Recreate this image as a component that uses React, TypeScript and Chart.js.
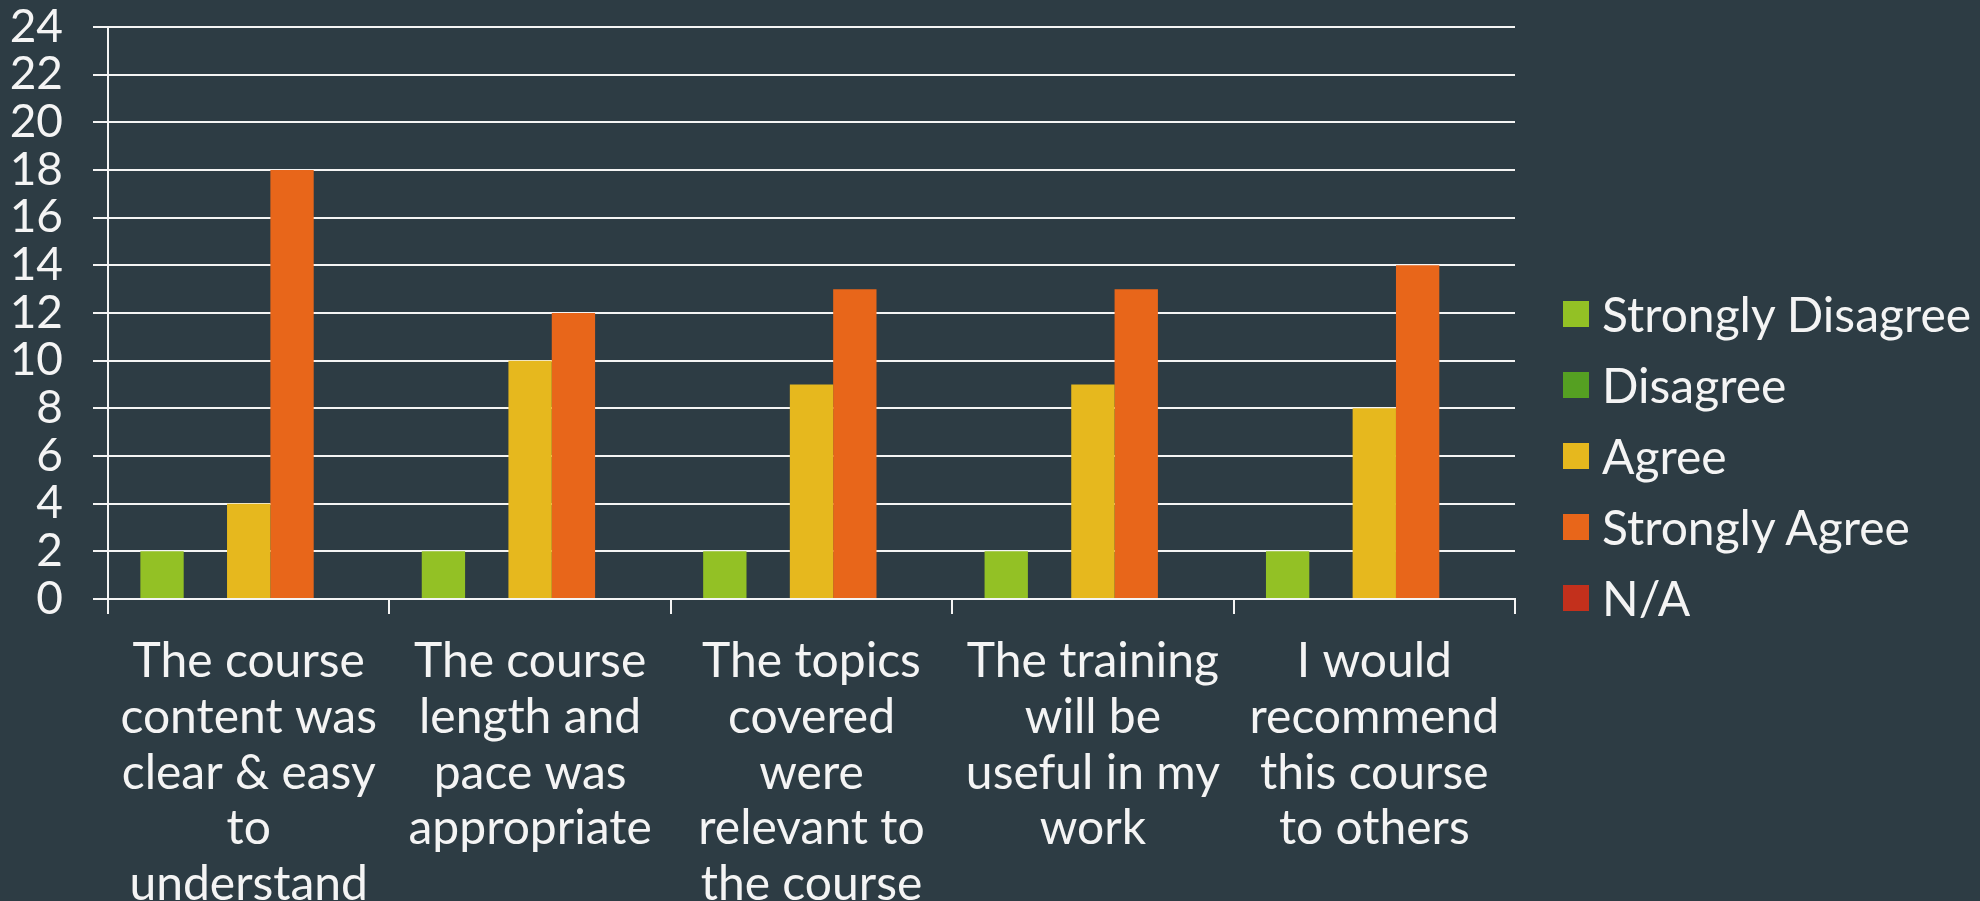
import React, { useEffect, useRef } from "react";
import { Chart, registerables } from "chart.js";

Chart.register(...registerables);

const categories: string[][] = [
  ["The course", "content was", "clear & easy", "to", "understand"],
  ["The course", "length and", "pace was", "appropriate"],
  ["The topics", "covered", "were", "relevant to", "the course"],
  ["The training", "will be", "useful in my", "work"],
  ["I would", "recommend", "this course", "to others"],
];

const seriesNames = ["Strongly Disagree", "Disagree", "Agree", "Strongly Agree", "N/A"];
const seriesColors = ["#93c125", "#55a022", "#e6b81e", "#e8661a", "#c3301c"];

const stronglyDisagree = [2, 2, 2, 2, 2];
const disagree = [0, 0, 0, 0, 0];
const agree = [4, 10, 9, 9, 8];
const stronglyAgree = [18, 12, 13, 13, 14];
const notApplicable = [0, 0, 0, 0, 0];

const seriesValues = [stronglyDisagree, disagree, agree, stronglyAgree, notApplicable];

const yMin = 0;
const yMax = 24;
const yStep = 2;

const BG = "#2d3c44";
const FG = "#f4f4f4";
const FONT = "Lato, 'Open Sans', sans-serif";

export default function App() {
  const canvasRef = useRef<HTMLCanvasElement | null>(null);

  useEffect(() => {
    document.body.style.margin = "0";
    document.body.style.background = BG;
    const canvas = canvasRef.current;
    if (!canvas) return;
    const chart = new Chart(canvas, {
      type: "bar",
      data: {
        labels: categories,
        datasets: seriesNames.map((name, i) => ({
          label: name,
          data: seriesValues[i],
          backgroundColor: seriesColors[i],
          borderWidth: 0,
          categoryPercentage: 0.77,
          barPercentage: 1.0,
        })),
      },
      options: {
        animation: false,
        responsive: true,
        maintainAspectRatio: false,
        layout: { padding: { left: 0, right: 465, top: 0, bottom: 0 } },
        plugins: {
          legend: { display: false },
          tooltip: { enabled: false },
        },
        scales: {
          x: {
            grid: {
              display: true,
              drawOnChartArea: false,
              drawTicks: true,
              tickLength: 15,
              color: FG,
              lineWidth: 2,
              offset: true,
            },
            border: { display: true, color: FG, width: 2 },
            ticks: {
              color: FG,
              font: { family: FONT, size: 48, lineHeight: 1.16 },
              padding: 20,
              maxRotation: 0,
              minRotation: 0,
              autoSkip: false,
            },
            afterFit: (scale: any) => {
              scale.height = 302;
            },
          },
          y: {
            min: yMin,
            max: yMax,
            grid: {
              color: FG,
              lineWidth: 2,
              drawTicks: true,
              tickLength: 15,
            },
            border: { display: true, color: FG, width: 2 },
            ticks: {
              stepSize: yStep,
              autoSkip: false,
              color: FG,
              font: { family: FONT, size: 46, lineHeight: 1.0 },
              padding: 30,
            },
            afterFit: (scale: any) => {
              scale.width = 108;
              scale.paddingTop = 27;
              scale.paddingBottom = 0;
            },
          },
        },
      },
    });
    return () => chart.destroy();
  }, []);

  return (
    <div style={{ position: "relative", width: 1980, height: 901, background: BG, overflow: "hidden" }}>
      <canvas ref={canvasRef} />
      <div
        style={{
          position: "absolute",
          left: 1563,
          top: 278,
          fontFamily: FONT,
          fontSize: 48,
          color: FG,
        }}
      >
        {seriesNames.map((name, i) => (
          <div key={name} style={{ display: "flex", alignItems: "center", height: 71, whiteSpace: "nowrap" }}>
            <span style={{ display: "inline-block", width: 26, height: 26, background: seriesColors[i], marginRight: 13 }} />
            <span style={{ lineHeight: "71px" }}>{name}</span>
          </div>
        ))}
      </div>
    </div>
  );
}
